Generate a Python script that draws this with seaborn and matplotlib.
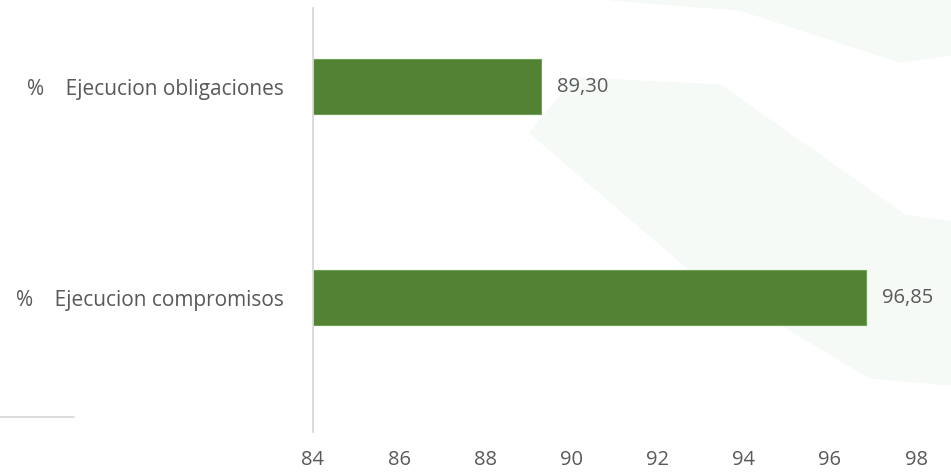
import numpy as np
import pandas as pd
import matplotlib.pyplot as plt
from matplotlib.patches import Polygon
from matplotlib.lines import Line2D
import seaborn as sns

# data
categorias = ["%    Ejecucion obligaciones", "%    Ejecucion compromisos"]
valores = [89.30, 96.85]
etiquetas = ["89,30", "96,85"]
ticks_x = [84, 86, 88, 90, 92, 94, 96, 98]

verde = "#548235"
gris_texto = "#595959"

sns.set_theme(style="white")
plt.rcParams['font.family'] = ['Open Sans', 'DejaVu Sans']

df = pd.DataFrame({"categoria": categorias, "valor": valores})

fig = plt.figure(figsize=(9.51, 4.72), dpi=100)

# faint watermark shapes in the background (figure pixel coords)
W, H = 951, 472
def px(pts):
    return [(x / W, 1 - y / H) for x, y in pts]

fondo1 = Polygon(px([(530, 133), (575, 78), (720, 85), (905, 215), (951, 222),
                     (951, 385), (870, 378), (690, 270)]),
                 closed=True, transform=fig.transFigure, color="#f5faf7", zorder=-5)
fondo2 = Polygon(px([(610, 0), (951, 0), (951, 55), (900, 62), (740, 10)]),
                 closed=True, transform=fig.transFigure, color="#f5faf7", zorder=-5)
fig.patches.extend([fondo1, fondo2])

ax = fig.add_axes([313 / W, 1 - 432 / H, 603 / W, 424 / H])
ax.patch.set_alpha(0)
ax.set_zorder(1)

sns.barplot(data=df, x="valor", y="categoria", orient="h", color=verde,
            width=0.261, saturation=1, edgecolor="#6f9e55", linewidth=0.8, ax=ax)

ax.set_xlim(84, 98)
ax.set_ylim(1.638, -0.374)
ax.set_xticks(ticks_x)
ax.set_xticklabels([str(t) for t in ticks_x])
ax.set_xlabel("")
ax.set_ylabel("")

for i, (v, lab) in enumerate(zip(valores, etiquetas)):
    ax.annotate(lab, (v, i), xytext=(11, 0), textcoords="offset points",
                va="center", ha="left", fontsize=14.5, color=gris_texto)

for s in ["top", "right", "bottom"]:
    ax.spines[s].set_visible(False)
ax.spines["left"].set_color("#d9d9d9")
ax.spines["left"].set_linewidth(1.3)

ax.tick_params(axis="x", length=0, pad=13, labelsize=14.5, labelcolor=gris_texto)
ax.tick_params(axis="y", length=0, pad=21, labelsize=15, labelcolor=gris_texto)

# small gray line at bottom left
fig.add_artist(Line2D([0, 74 / W], [1 - 416.7 / H, 1 - 416.7 / H],
                      transform=fig.transFigure, color="#d9d9d9", linewidth=1.3))

fig.savefig("out.png", dpi=100, facecolor="white")
